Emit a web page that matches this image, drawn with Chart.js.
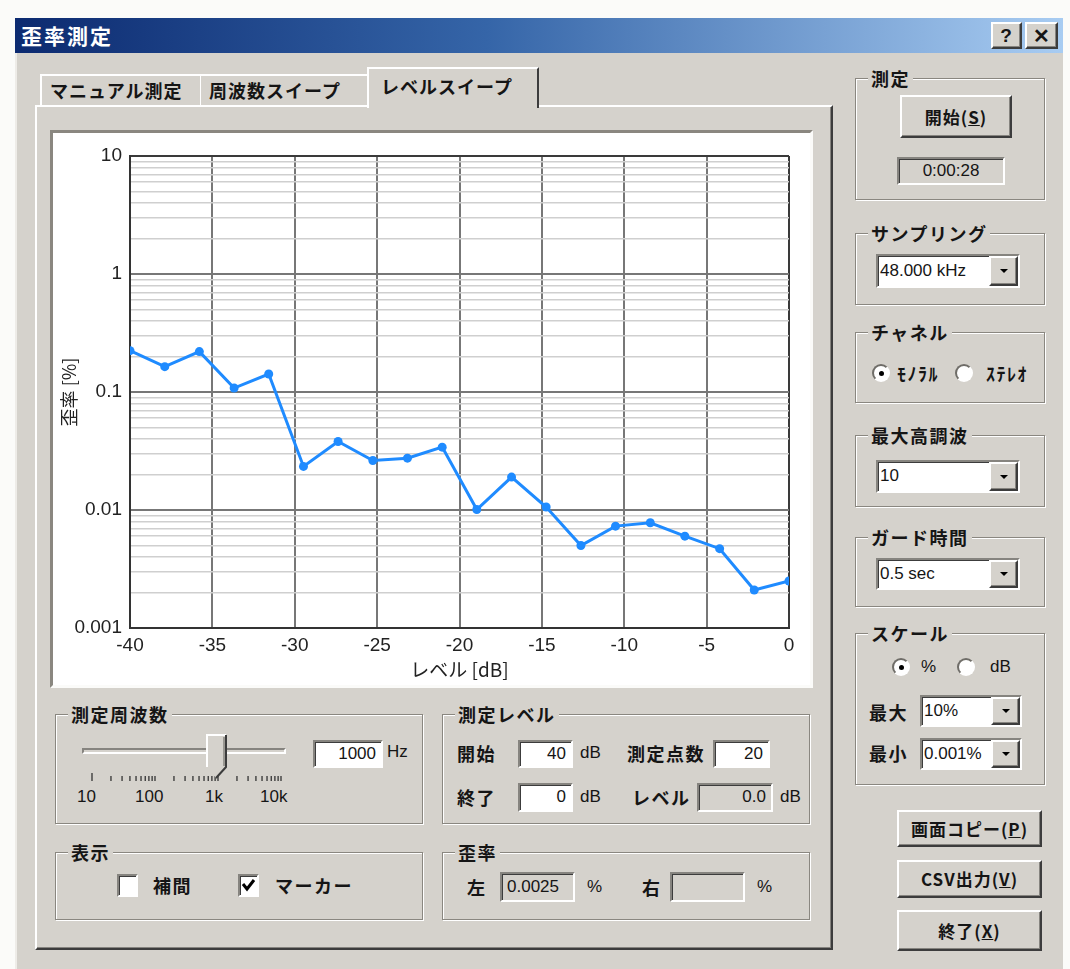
<!DOCTYPE html>
<html>
<head>
<meta charset="utf-8">
<script src="https://cdn.jsdelivr.net/npm/chart.js@4.4.1/dist/chart.umd.min.js"></script>
<style>
  * { box-sizing: border-box; }
  body { margin: 0; width: 1070px; height: 969px; overflow: hidden; position: relative;
         background: #fbfbf9; font-family: "Noto Sans CJK JP", "Noto Sans", sans-serif; color: #151515; }
  div { position: absolute; }
  .face { background: #d5d2cc; }
  .titlebar { background: linear-gradient(to right, #0c2a70 0%, #3565a8 45%, #a8ccf2 100%);
              color: #fff; font-weight: bold; font-size: 21px; line-height: 35px; padding-left: 6px; letter-spacing: 2px; }
  .raised { background: #d5d2cc; border: 2px solid; border-color: #fff #3c3c3c #3c3c3c #fff;
            box-shadow: inset -1px -1px 0 #86847f; display: flex; align-items: center; justify-content: center; }
  .sunken { background: #fff; border: 2px solid; border-color: #86847f #fff #fff #86847f;
            box-shadow: inset 1px 1px 0 #3c3c3c; }
  .ro { background: #d5d2cc; }
  .grp { border: 1px solid #8a8780; box-shadow: inset 1px 1px 0 #fff, 1px 1px 0 #fff; }
  .grp > span { position: absolute; left: 12px; top: -12px; background: #d5d2cc; padding: 0 3px;
                font-weight: bold; font-size: 18px; line-height: 22px; letter-spacing: 1.5px; white-space: nowrap; }
  .t { font-size: 18px; line-height: 22px; white-space: nowrap; }
  .jp { font-weight: bold; letter-spacing: 1.5px; }
  .lat { font-family: "Liberation Sans", Arial, sans-serif; font-size: 17px; }
  .val { position: static; width: 100%; font-family: "Liberation Sans", Arial, sans-serif; font-size: 17px;
         line-height: 24px; padding: 0 5px; white-space: nowrap; }
  .radio { width: 18px; height: 18px; border-radius: 50%; background: #fff; border: 2px solid;
           border-color: #6f6d68 #fff #fff #6f6d68; }
  .dot { left: 5px; top: 5px; width: 5px; height: 5px; border-radius: 50%; background: #000; }
  .arrow { width: 0; height: 0; border-left: 4px solid transparent; border-right: 4px solid transparent;
           border-top: 4px solid #000; position: static; }
  .tab { background: #d5d2cc; border-top: 2px solid #fff; border-left: 2px solid #fff; border-right: 2px solid #555;
         font-weight: bold; font-size: 18px; line-height: 28px; letter-spacing: 1px; padding-left: 8px; white-space: nowrap; }
</style>
</head>
<body>
<canvas id="plotSlot" style="display:none"></canvas>
<script>
// ---- Measurement data: level sweep at 1 kHz, 20 points from -40 dB to 0 dB ----
const levelsDb = [-40, -37.89, -35.79, -33.68, -31.58, -29.47, -27.37, -25.26, -23.16, -21.05,
                  -18.95, -16.84, -14.74, -12.63, -10.53, -8.42, -6.32, -4.21, -2.11, 0];
const distortionPct = [0.224, 0.164, 0.22, 0.108, 0.142, 0.0234, 0.0381, 0.0263, 0.0275, 0.0341,
                       0.0101, 0.019, 0.0106, 0.0050, 0.0073, 0.0078, 0.0060, 0.0047, 0.0021, 0.0025];

// ---- Axis ticks ----
const xTickValues = [-40, -35, -30, -25, -20, -15, -10, -5, 0];
const yDecades = [0.001, 0.01, 0.1, 1, 10];
const yDecadeLabels = ['0.001', '0.01', '0.1', '1', '10'];
const yMinorSteps = [2, 3, 4, 5, 6, 7, 8, 9];

// ---- Frequency slider tick marks (Hz) ----
const sliderTickHz = [10, 20, 30, 40, 50, 60, 70, 80, 90, 100, 200, 300, 400, 500, 600, 700, 800, 900,
                      1000, 2000, 3000, 4000, 5000, 6000, 7000, 8000, 9000, 10000];

// ---- Dialog widgets ----
function put(cls, x, y, w, h, html, extra) {
  const d = document.createElement('div');
  d.className = cls;
  d.style.left = x + 'px';
  d.style.top = y + 'px';
  if (w != null) d.style.width = w + 'px';
  if (h != null) d.style.height = h + 'px';
  if (html != null) d.innerHTML = html;
  if (extra) Object.assign(d.style, extra);
  document.body.appendChild(d);
  return d;
}
function text(x, cy, s, cls) { return put('t ' + (cls || 'jp'), x, cy - 11, null, null, s); }
function group(x, y, w, h, label) { return put('grp', x, y, w, h, '<span>' + label + '</span>'); }
function button(x, y, w, h, label, extra) {
  return put('raised', x, y, w, h, '<span class="t jp" style="position:static;font-size:17px;letter-spacing:1px">' + label + '</span>', extra);
}
function edit(x, y, w, h, val, opts) {
  opts = opts || {};
  return put('sunken' + (opts.ro ? ' ro' : ''), x, y, w, h,
    '<div class="val" style="text-align:' + (opts.align || 'right') + ';line-height:' + (h - 5) + 'px">' + val + '</div>');
}
function combo(x, y, w, h, val) {
  const d = put('sunken', x, y, w, h,
    '<div class="val" style="line-height:' + (h - 5) + 'px;padding-left:2px">' + val + '</div>');
  const b = document.createElement('div');
  b.className = 'raised';
  Object.assign(b.style, { right: '0px', top: '0px', width: '29px', height: (h - 4) + 'px' });
  b.innerHTML = '<div class="arrow"></div>';
  d.appendChild(b);
  return d;
}
function radio(x, y, on) {
  return put('radio', x, y, null, null, on ? '<div class="dot"></div>' : '');
}
function check(x, y, on) {
  return put('sunken', x, y, 21, 23, on
    ? '<svg width="17" height="19" style="position:absolute;left:0;top:0"><path d="M3 8 L7 13 L14 4" stroke="#000" stroke-width="3" fill="none"/></svg>'
    : '');
}

// window frame and caption
put('face', 15, 18, 1048, 960, null, { borderLeft: '2px solid #eeece8' });
put('titlebar', 15, 18, 1048, 35, '歪率測定');
button(991, 22, 31, 27, '<b style="font-family:Liberation Sans;font-size:19px">?</b>');
button(1025, 22, 33, 27, '<b style="font-family:Liberation Sans;font-size:20px">✕</b>');

// tab page
put('tab', 40, 74, 162, 32, 'マニュアル測定');
put('tab', 200, 74, 170, 32, '周波数スイープ', { borderLeft: '1px solid #fff' });
put('face', 35, 105, 798, 845, null,
    { border: '2px solid', borderColor: '#fff #3c3c3c #3c3c3c #fff', boxShadow: 'inset -1px -1px 0 #86847f' });
put('tab', 367, 67, 172, 41, 'レベルスイープ', { borderRight: '2px solid #3c3c3c', lineHeight: '34px', paddingLeft: '12px' });

// graph frame
put('', 50, 130, 763, 558, null,
    { background: '#fff', border: '3px solid', borderColor: '#8a8780 #fbfbf9 #fbfbf9 #8a8780' });
const plotBox = put('', 57, 135, 751, 549, null, { background: '#fff' });
plotBox.appendChild(document.getElementById('plotSlot'));
document.getElementById('plotSlot').style.display = 'block';

// measurement frequency
group(55, 714, 368, 110, '測定周波数');
put('sunken', 82, 748, 204, 6, null, { background: '#d5d2cc', boxShadow: 'none' });
let ticksSvg = '<svg width="210" height="10" style="position:absolute;left:0;top:0">';
sliderTickHz.forEach((f, i) => {
  const x = 7 + 63 * Math.log10(f / 10);
  ticksSvg += '<line x1="' + x + '" x2="' + x + '" y1="' + (i === 0 ? 0 : 3) + '" y2="8" stroke="#333" stroke-width="1.3"/>';
});
ticksSvg += '</svg>';
put('', 85, 773, 210, 10, ticksSvg);
put('', 205, 733, 24, 47,
  '<svg width="24" height="47"><polygon points="2,2 21,2 21,34 11,45 2,34" fill="#d5d2cc" stroke="none"/>' +
  '<polyline points="2,34 2,2 21,2" fill="none" stroke="#fff" stroke-width="2"/>' +
  '<polyline points="21,2 21,34 11,45" fill="none" stroke="#3c3c3c" stroke-width="2"/>' +
  '<line x1="19" y1="4" x2="19" y2="33" stroke="#86847f" stroke-width="1.5"/></svg>');
edit(313, 740, 70, 28, '1000');
text(387, 752, 'Hz', 'lat');
text(77, 797, '10', 'lat');
text(135, 797, '100', 'lat');
text(205, 797, '1k', 'lat');
text(260, 797, '10k', 'lat');

// display options
group(55, 852, 368, 68, '表示');
check(117, 874, false);
text(153, 885, '補間');
check(238, 874, true);
text(275, 885, 'マーカー');

// measurement level
group(442, 714, 368, 110, '測定レベル');
text(457, 753, '開始');
edit(518, 740, 55, 28, String(-levelsDb[0]));
text(580, 753, 'dB', 'lat');
text(627, 753, '測定点数');
edit(713, 740, 57, 28, String(levelsDb.length));
text(457, 797, '終了');
edit(518, 783, 55, 29, String(-levelsDb[levelsDb.length - 1]));
text(580, 797, 'dB', 'lat');
text(632, 797, 'レベル');
edit(697, 783, 76, 29, levelsDb[levelsDb.length - 1].toFixed(1), { ro: true });
text(780, 797, 'dB', 'lat');

// distortion readout
group(442, 852, 368, 68, '歪率');
text(467, 887, '左');
edit(500, 872, 75, 30, String(distortionPct[distortionPct.length - 1]), { ro: true, align: 'left' });
text(587, 887, '%', 'lat');
text(642, 887, '右');
edit(670, 872, 75, 30, '', { ro: true });
text(757, 887, '%', 'lat');

// right side controls
group(855, 78, 190, 122, '測定');
button(900, 95, 112, 43, '開始(<u>S</u>)');
edit(897, 157, 108, 28, '0:00:28', { ro: true, align: 'center' });
group(855, 233, 190, 72, 'サンプリング');
combo(876, 254, 144, 34, '48.000 kHz');
group(855, 332, 190, 71, 'チャネル');
radio(872, 364, true);
text(897, 373, 'ﾓﾉﾗﾙ', 'jp');
radio(955, 364, false);
text(986, 373, 'ｽﾃﾚｵ', 'jp');
group(855, 435, 190, 72, '最大高調波');
combo(876, 460, 144, 33, '10');
group(855, 537, 190, 70, 'ガード時間');
combo(876, 558, 144, 32, '0.5 sec');
group(855, 633, 190, 152, 'スケール');
radio(892, 658, true);
text(921, 667, '%', 'lat');
radio(957, 658, false);
text(990, 667, 'dB', 'lat');
text(869, 712, '最大');
combo(920, 695, 102, 32, '10%');
text(869, 753, '最小');
combo(920, 738, 102, 32, '0.001%');
button(897, 810, 145, 37, '画面コピー(<u>P</u>)');
button(897, 860, 145, 38, 'CSV出力(<u>V</u>)');
button(897, 910, 145, 41, '終了(<u>X</u>)');

// ---- Distortion vs level graph ----
function decadeIndex(v) {
  return yDecades.findIndex(d => Math.abs(d - v) / d < 1e-6);
}
const yGridValues = [];
yDecades.forEach((d, i) => {
  yGridValues.push(d);
  if (i < yDecades.length - 1) yMinorSteps.forEach(m => yGridValues.push(+(m * d).toPrecision(6)));
});

const lineBlue = '#1f8bff';
new Chart(document.getElementById('plotSlot'), {
  type: 'line',
  data: {
    datasets: [{
      data: levelsDb.map((x, i) => ({ x: x, y: distortionPct[i] })),
      borderColor: lineBlue,
      backgroundColor: lineBlue,
      borderWidth: 3,
      pointRadius: 4.5,
      pointHoverRadius: 4.5,
      pointBorderWidth: 0,
      tension: 0
    }]
  },
  options: {
    responsive: true,
    maintainAspectRatio: false,
    animation: false,
    events: [],
    layout: { padding: { left: 0, right: 19, top: 21, bottom: 0 } },
    plugins: { legend: { display: false }, tooltip: { enabled: false } },
    scales: {
      x: {
        type: 'linear',
        min: -40,
        max: 0,
        afterBuildTicks: s => { s.ticks = xTickValues.map(v => ({ value: v })); },
        afterFit: s => { s.height = 56; },
        grid: {
          drawTicks: false,
          color: c => (c.index === xTickValues.length - 1 ? '#3a3a3a' : '#777'),
          lineWidth: 2
        },
        border: { color: '#333', width: 2 },
        ticks: {
          padding: 6,
          color: '#222',
          autoSkip: false,
          maxRotation: 0,
          font: { family: 'Liberation Sans', size: 19 },
          callback: v => String(v)
        },
        title: {
          display: true,
          text: 'レベル [dB]',
          color: '#222',
          padding: { top: 0, bottom: 3 },
          font: { family: 'Noto Sans CJK JP', size: 19 }
        }
      },
      y: {
        type: 'logarithmic',
        min: 0.001,
        max: 10,
        afterBuildTicks: s => { s.ticks = yGridValues.map(v => ({ value: v })); },
        afterFit: s => { s.width = 73; },
        grid: {
          drawTicks: false,
          color: c => {
            const i = decadeIndex(c.tick.value);
            if (i === yDecades.length - 1) return '#3a3a3a';
            return i >= 0 ? '#777' : '#cfcfcf';
          },
          lineWidth: c => (decadeIndex(c.tick.value) >= 0 ? 2 : 1.5)
        },
        border: { color: '#333', width: 2 },
        ticks: {
          autoSkip: false,
          padding: 8,
          color: '#222',
          font: { family: 'Liberation Sans', size: 19 },
          callback: v => {
            const i = decadeIndex(v);
            return i >= 0 ? yDecadeLabels[i] : '';
          }
        },
        title: {
          display: true,
          text: '歪率 [%]',
          color: '#222',
          padding: { top: 1, bottom: 0 },
          font: { family: 'Noto Sans CJK JP', size: 18 }
        }
      }
    }
  }
});
</script>
</body>
</html>
